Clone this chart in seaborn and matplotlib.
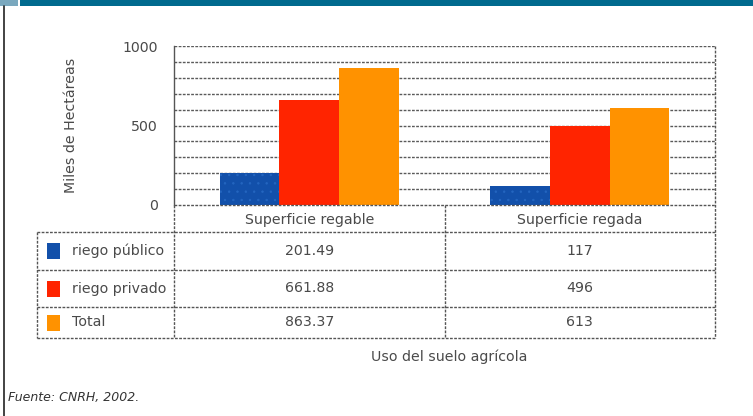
import matplotlib
matplotlib.use("Agg")
import matplotlib.pyplot as plt
from matplotlib.lines import Line2D
from matplotlib.patches import Rectangle
import seaborn as sns
import pandas as pd

categories = ["Superficie regable", "Superficie regada"]
series = ["riego público", "riego privado", "Total"]
riego_publico = [201.49, 117]
riego_privado = [661.88, 496]
total = [863.37, 613]
table_text = [["201.49", "117"], ["661.88", "496"], ["863.37", "613"]]
y_ticks = [0, 500, 1000]
colors = ["#1250AA", "#FF2400", "#FF9200"]

rows = []
for s, vals in zip(series, [riego_publico, riego_privado, total]):
    for c, v in zip(categories, vals):
        rows.append({"categoria": c, "serie": s, "valor": v})
df = pd.DataFrame(rows)

sns.set_style("white")
plt.rcParams["font.family"] = ["DejaVu Sans"]
plt.rcParams["hatch.linewidth"] = 0.5

FS = 10.2
TC = "#4a4a4a"

W, H = 753, 416
fig = plt.figure(figsize=(W / 100, H / 100), dpi=100)

def fx(px):
    return px / W

def fy(py):
    return 1 - py / H

ax_l, ax_r, ax_t, ax_b = 174, 715, 46, 205
ax = fig.add_axes([fx(ax_l), fy(ax_b), fx(ax_r - ax_l), fy(ax_t) - fy(ax_b)])

sns.barplot(data=df, x="categoria", y="valor", hue="serie", order=categories,
            hue_order=series, palette=colors, width=0.66, gap=0, ax=ax,
            saturation=1, legend=False, edgecolor="none", linewidth=0)

ax.set_xlim(-0.5, 1.5)
ax.set_ylim(0, 1000)
ax.set_yticks(y_ticks)
ax.set_yticklabels([str(t) for t in y_ticks], fontsize=FS, color=TC)
ax.set_yticks(range(0, 1001, 100), minor=True)
ax.tick_params(axis="y", which="both", length=4, width=0.8, color="#555555", pad=7.5)
ax.set_xticks([])
ax.set_xlabel("")
ax.set_ylabel("Miles de Hectáreas", fontsize=FS, color=TC, labelpad=32)
ax.grid(False)
for yv in range(100, 1001, 100):
    ax.axhline(yv, color="#5a5a5a", lw=1.0, ls=(0, (2, 1)), zorder=0)
for sp in ["top", "right", "bottom"]:
    ax.spines[sp].set_visible(False)
ax.spines["left"].set_color("#555555")
ax.spines["left"].set_linewidth(1.0)

# subtle dotted texture on blue bars
for p in ax.patches:
    fc = p.get_facecolor()
    if fc[2] > 0.6:
        p.set_hatch("..")
        p.set_edgecolor("#2466C0")
        p.set_linewidth(0)

# table below
lc = "#555555"
ls = (0, (2, 1))
def hline(y, x0, x1):
    fig.add_artist(Line2D([fx(x0), fx(x1)], [fy(y), fy(y)], color=lc, lw=1.0, ls=ls))

def vline(x, y0, y1):
    fig.add_artist(Line2D([fx(x), fx(x)], [fy(y0), fy(y1)], color=lc, lw=1.0, ls=ls))

hline(ax_b, ax_l, ax_r)
row_h = [232, 270, 307, 338]
for y in row_h:
    hline(y, 37, ax_r)
vline(37, 232, 338)
vline(ax_l, ax_b, 338)
mid = (ax_l + ax_r) / 2
vline(mid, ax_b, 338)
vline(ax_r, ax_t, 338)

txt_kw = dict(fontsize=FS, color=TC, ha="center", va="center")
centers = [(ax_l + mid) / 2, (mid + ax_r) / 2]
for c, xc in zip(categories, centers):
    fig.text(fx(xc), fy(220), c, **txt_kw)
for i, s in enumerate(series):
    yc = (row_h[i] + row_h[i + 1]) / 2
    fig.add_artist(Rectangle((fx(47), fy(yc + 8)), fx(13), fy(yc - 8) - fy(yc + 8),
                             facecolor=colors[i], edgecolor="none",
                             transform=fig.transFigure))
    fig.text(fx(72), fy(yc), s, fontsize=FS, color=TC, ha="left", va="center")
    for j, xc in enumerate(centers):
        fig.text(fx(xc), fy(yc), table_text[i][j], **txt_kw)

fig.text(fx(449), fy(357), "Uso del suelo agrícola", fontsize=FS, color=TC,
         ha="center", va="center")
fig.text(fx(8), fy(397), "Fuente: CNRH, 2002.", fontsize=9, color="#333333",
         ha="left", va="center", style="italic")

# header band and left border
fig.add_artist(Rectangle((0, fy(6)), 1, fy(0) - fy(6), facecolor="#006A8E",
                         edgecolor="none", transform=fig.transFigure))
fig.add_artist(Rectangle((0, fy(6)), fx(18), fy(0) - fy(6), facecolor="#7AA8BE",
                         edgecolor="none", transform=fig.transFigure))
fig.add_artist(Rectangle((fx(18), fy(6)), fx(2), fy(0) - fy(6), facecolor="white",
                         edgecolor="none", transform=fig.transFigure))
fig.add_artist(Line2D([fx(3.5), fx(3.5)], [fy(6), 0], color="#222222", lw=1.2))

fig.savefig("out.png", dpi=100)
